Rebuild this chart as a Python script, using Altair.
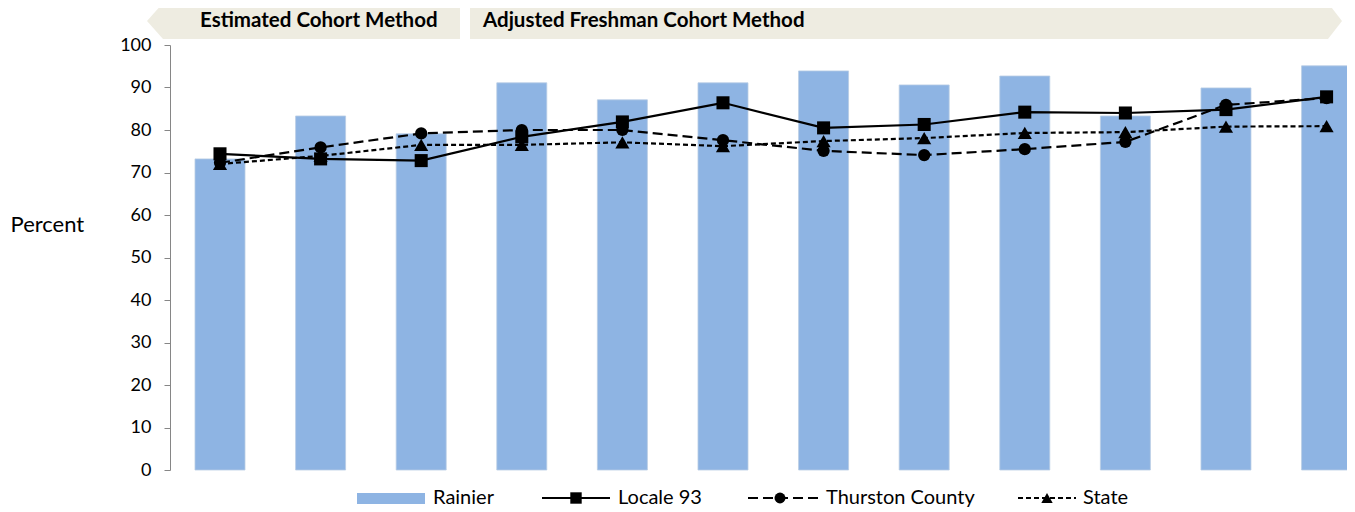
import altair as alt
import pandas as pd

# ---- data ----
cohorts = list(range(1, 13))
rainier = [73.2, 83.3, 79.1, 91.1, 87.1, 91.1, 93.9, 90.6, 92.7, 83.3, 89.9, 95.1]
locale93 = [74.4, 73.2, 72.8, 78.4, 81.9, 86.4, 80.5, 81.3, 84.2, 84.0, 84.8, 87.8]
thurston = [72.3, 75.9, 79.2, 80.0, 80.0, 77.6, 75.1, 74.1, 75.5, 77.2, 85.9, 87.5]
state = [72.0, 73.9, 76.5, 76.5, 77.1, 76.2, 77.4, 78.1, 79.3, 79.5, 80.8, 80.9]
series_names = ["Rainier", "Locale 93", "Thurston County", "State"]
banner_labels = ["Estimated Cohort Method", "Adjusted Freshman Cohort Method"]
y_ticks = list(range(0, 101, 10))

df = pd.DataFrame({
    "i": [c - 1 for c in cohorts],
    "rainier": rainier,
    "locale": locale93,
    "thurston": thurston,
    "state": state,
})
one = pd.DataFrame({"k": [0]})

FONT = "Lato"
BAR = "#8EB4E3"
BANNER = "#EEECE1"

xscale = alt.Scale(domain=[-0.497, 11.203], nice=False, zero=False, padding=0)
yscale = alt.Scale(domain=[0, 100], nice=False, padding=0)
X = alt.X("i:Q", scale=xscale, axis=None)
Y_AXIS = alt.Axis(
    values=y_ticks, grid=False, domainColor="#868686", tickColor="#868686",
    tickSize=6, labelFont=FONT, labelFontSize=18, labelColor="#000000", labelPadding=13,
    title="Percent", titleAngle=0, titleX=-160, titleY=179, titleAlign="left",
    titleBaseline="middle", titleFont=FONT, titleFontSize=22, titleFontWeight="normal",
    titleColor="#000000")

bars = alt.Chart(df).mark_bar(size=50, color=BAR, opacity=1, stroke="#B9CDE5", strokeWidth=0.8).encode(
    x=X,
    y=alt.Y("rainier:Q", scale=yscale, axis=Y_AXIS),
)


def series(col, shape, size, dash=None):
    base = alt.Chart(df).encode(x=X, y=alt.Y(f"{col}:Q", scale=yscale, axis=Y_AXIS))
    if dash:
        line = base.mark_line(color="black", strokeWidth=2.2, strokeDash=dash)
    else:
        line = base.mark_line(color="black", strokeWidth=2.2)
    pts = base.mark_point(shape=shape, size=size, filled=True, color="black", opacity=1)
    return line + pts


s_state = series("state", "triangle-up", 200, [5, 3])
s_thur = series("thurston", "circle", 150, [10, 5])
s_loc = series("locale", "square", 170)

# ---- banners ----
left_path = "M-23,-24 L-7,-42 L290,-42 L290,-6 L-7,-6 Z"
right_path = "M300,-42 L1158,-42 L1172,-24 L1158,-6 L300,-6 Z"
banners = []
for p in [left_path, right_path]:
    banners.append(alt.Chart(one).mark_point(shape=p, size=4, filled=True, color=BANNER,
                                             opacity=1, strokeWidth=0)
                   .encode(x=alt.value(0), y=alt.value(0)))
for lab, xx in zip(banner_labels, [30, 313]):
    banners.append(alt.Chart(one).mark_text(align="left", baseline="middle", font=FONT,
                                            fontSize=20.5, fontWeight="bold", color="black")
                   .encode(x=alt.value(xx), y=alt.value(-24), text=alt.value(lab)))

# ---- legend ----
LY = 453
leg = []
leg.append(alt.Chart(one).mark_rect(color=BAR).encode(
    x=alt.value(187), x2=alt.value(255), y=alt.value(LY - 5), y2=alt.value(LY + 6)))
legend_items = [
    (372, 440, 406, "square", 130, None, 448),
    (578, 650, 610, "circle", 120, [10, 5], 656),
    (848, 906, 877, "triangle-up", 130, [5, 3], 913),
]
for (x1, x2, xs, shp, sz, dash, xt), name in zip(legend_items, series_names[1:]):
    if dash:
        r = alt.Chart(one).mark_rule(color="black", strokeWidth=2.2, strokeDash=dash)
    else:
        r = alt.Chart(one).mark_rule(color="black", strokeWidth=2.2)
    leg.append(r.encode(x=alt.value(x1), x2=alt.value(x2), y=alt.value(LY)))
    leg.append(alt.Chart(one).mark_point(shape=shp, size=sz, filled=True, color="black", opacity=1)
               .encode(x=alt.value(xs), y=alt.value(LY)))
    leg.append(alt.Chart(one).mark_text(align="left", baseline="middle", font=FONT, fontSize=20,
                                        color="black")
               .encode(x=alt.value(xt), y=alt.value(LY), text=alt.value(name)))
leg.append(alt.Chart(one).mark_text(align="left", baseline="middle", font=FONT, fontSize=20,
                                    color="black")
           .encode(x=alt.value(263), y=alt.value(LY), text=alt.value(series_names[0])))

chart = alt.layer(bars, s_state, s_thur, s_loc, *banners, *leg).properties(
    width=1177, height=425,
    autosize=alt.AutoSizeParams(type="none"),
    padding={"left": 162, "top": 37, "right": 0, "bottom": 42},
).configure_view(stroke=None)

chart.save("out.html", embed_options={"renderer": "svg", "actions": False})
